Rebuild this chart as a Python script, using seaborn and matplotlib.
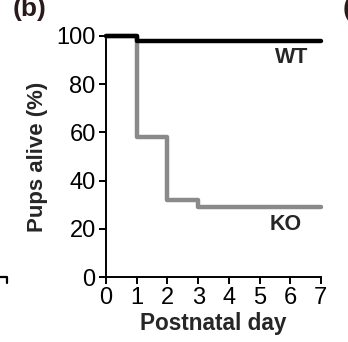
import matplotlib
matplotlib.use("Agg")
import matplotlib.pyplot as plt
import seaborn as sns
from matplotlib.lines import Line2D

# Survival of pups over the first postnatal week
days = [0, 1, 2, 3, 7]
wt_alive = [100, 98, 98, 98, 98]
ko_alive = [100, 58, 32, 29, 29]
x_ticks = [0, 1, 2, 3, 4, 5, 6, 7]
y_ticks = [0, 20, 40, 60, 80, 100]

sns.set_theme(style="ticks")
plt.rcParams["font.family"] = ["Liberation Sans", "DejaVu Sans"]

fig = plt.figure(figsize=(3.48, 3.42), dpi=100)
ax = fig.add_axes([0.305, 0.19, 0.617, 0.705])

sns.lineplot(x=days, y=ko_alive, drawstyle="steps-post", color="#8a8a8a",
             linewidth=3.2, ax=ax, clip_on=False, zorder=3)
sns.lineplot(x=days, y=wt_alive, drawstyle="steps-post", color="black",
             linewidth=3.2, ax=ax, clip_on=False, zorder=4)
for ln in ax.lines:
    ln.set_solid_capstyle("round")

ax.set_xlim(0, 7)
ax.set_ylim(0, 100)
ax.set_xticks(x_ticks)
ax.set_yticks(y_ticks)
ax.tick_params(axis="both", labelsize=17, width=1.4, length=5, color="black",
               labelcolor="black", pad=2.5)
for side in ("top", "right"):
    ax.spines[side].set_visible(False)
for side in ("left", "bottom"):
    ax.spines[side].set_color("black")
    ax.spines[side].set_linewidth(1.4)

ax.set_xlabel("Postnatal day", fontsize=16.3, fontweight="bold", labelpad=2)
ax.set_ylabel("Pups alive (%)", fontsize=16, fontweight="bold", labelpad=6)

ax.text(6.06, 91, "WT", fontsize=15.5, fontweight="bold", ha="center", va="center")
ax.text(5.86, 21.6, "KO", fontsize=15.5, fontweight="bold", ha="center", va="center")

# Panel letters
fig.text(0.035, 0.975, "(b)", fontsize=19, fontweight="bold", color="#2b1a1a",
         ha="left", va="center")
fig.text(0.985, 0.975, "(c)", fontsize=19, fontweight="bold", color="#2b1a1a",
         ha="left", va="center")

# Edge of the neighbouring panel's axis
fig.add_artist(Line2D([0.0, 0.021, 0.021], [0.19, 0.19, 0.172], color="black",
                      linewidth=1.6, transform=fig.transFigure))

fig.savefig("out.png", dpi=100, facecolor="white")
